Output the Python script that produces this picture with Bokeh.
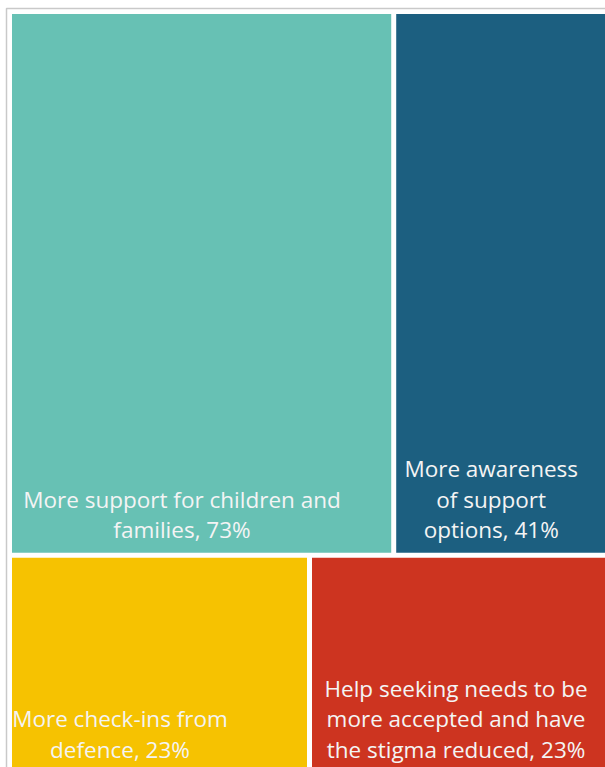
from bokeh.plotting import figure
from bokeh.models import Range1d, ColumnDataSource
from bokeh.core.properties import value
from bokeh.embed import file_html
from bokeh.resources import INLINE

# ---- data ----
categories = ["More support for children and families",
              "More awareness of support options",
              "More check-ins from defence",
              "Help seeking needs to be more accepted and have the stigma reduced"]
values = [73, 41, 23, 23]
label_lines = [["More support for children and", "families, 73%"],
               ["More awareness", "of support", "options, 41%"],
               ["More check-ins from", "defence, 23%"],
               ["Help seeking needs to be", "more accepted and have", "the stigma reduced, 23%"]]
rows = [[0, 1], [2, 3]]  # which categories share each row of the treemap

# ---- style ----
colors = ["#67C1B4", "#1C5F80", "#F6C201", "#CD3420"]
label_offsets = [170, 95, 108, 144]   # label block centre from the tile's left edge
W, H = 605, 767
X0, Y0, X1, Y1 = 9, 11, 609, 774       # treemap area (page pixels)
GAP = 2.5
FONT = "Open Sans"
FS = 22.5
LINE_H = 30.5
BOTTOM_PAD = 23
MAX_BASE = H - 16

p = figure(width=W, height=H, output_backend="svg", toolbar_location=None,
           x_range=Range1d(0, W), y_range=Range1d(H, 0), min_border=0)
p.axis.visible = False
p.grid.visible = False
p.outline_line_color = None
p.background_fill_color = "white"
p.border_fill_color = "white"

total = sum(values)
tiles = []
y = Y0
for r in rows:
    rsum = sum(values[i] for i in r)
    h = (Y1 - Y0) * rsum / total
    x = X0
    for i in r:
        w = (X1 - X0) * values[i] / rsum
        tiles.append((i, x + GAP, x + w - GAP, y + GAP, y + h - GAP))
        x += w
    y += h
tiles.sort()
L = [t[1] for t in tiles]; R = [t[2] for t in tiles]
T = [t[3] for t in tiles]; B = [t[4] for t in tiles]

# frame
p.quad(left=[X0 - 3], right=[X1 + 10], top=[Y0 - 3], bottom=[Y1 + 10],
       fill_color=None, line_color="#C9C9C9", line_width=1.5)

src = ColumnDataSource(dict(left=L, right=R, top=T, bottom=B, color=colors, cat=categories))
p.quad(left="left", right="right", top="top", bottom="bottom", fill_color="color",
       line_color=None, source=src)

tx, ty, tt = [], [], []
for i, lines in enumerate(label_lines):
    n = len(lines)
    bottom_line = min(B[i] - BOTTOM_PAD, MAX_BASE)
    for k, line in enumerate(lines):
        tx.append(L[i] + label_offsets[i])
        ty.append(bottom_line - (n - 1 - k) * LINE_H)
        tt.append(line)
p.text(x=tx, y=ty, text=tt, text_color="#F4F4F4", text_font=value(FONT),
       text_font_size=f"{FS}px", text_align="center", text_baseline="alphabetic")

open("out.html", "w").write(file_html(p, INLINE))
